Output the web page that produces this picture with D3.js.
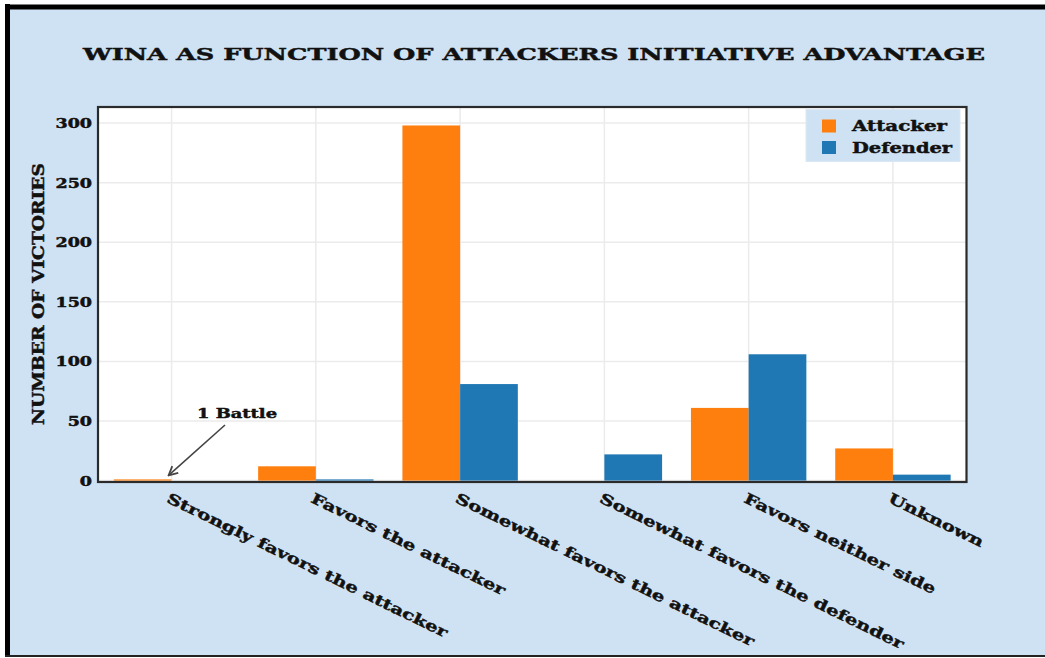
<!DOCTYPE html>
<html>
<head>
<meta charset="utf-8">
<script src="https://cdn.jsdelivr.net/npm/d3@7"></script>
<style>
  html, body { margin: 0; padding: 0; background: #ffffff; }
  svg { display: block; }
  text { font-family: "DejaVu Serif", "Liberation Serif", serif; font-weight: bold; fill: #111; stroke: #111; stroke-width: 0.45px; }
</style>
</head>
<body>
<svg id="chart" width="1045" height="658"></svg>
<script>
// ---- data ----
const categories = [
  "Strongly favors the attacker",
  "Favors the attacker",
  "Somewhat favors the attacker",
  "Somewhat favors the defender",
  "Favors neither side",
  "Unknown"
];
const attackerWins = [1, 12, 298, 0, 61, 27];
const defenderWins = [0, 1, 81, 22, 106, 5];
const seriesNames = ["Attacker", "Defender"];
const yTickValues = [0, 50, 100, 150, 200, 250, 300];
const titleText = "WINA AS FUNCTION OF ATTACKERS INITIATIVE ADVANTAGE";
const yAxisLabel = "NUMBER OF VICTORIES";
const annotationText = "1 Battle";

// ---- layout / style ----
const W = 1045, H = 658;
const plot = { left: 98, right: 966.5, top: 107, bottom: 482 };
const colors = ["#ff7f0e", "#1f77b4"];
const bg = "#cfe2f3";

const svg = d3.select("#chart");

// background + frame
svg.append("rect").attr("x", 7).attr("y", 7).attr("width", W).attr("height", 648).attr("fill", bg);
svg.append("line").attr("x1", 7.5).attr("x2", 7.5).attr("y1", 4).attr("y2", 656).attr("stroke", "#000").attr("stroke-width", 5);
svg.append("line").attr("x1", 5).attr("x2", W).attr("y1", 7).attr("y2", 7).attr("stroke", "#000").attr("stroke-width", 5);
svg.append("line").attr("x1", 5).attr("x2", W).attr("y1", 656).attr("y2", 656).attr("stroke", "#222").attr("stroke-width", 2);

// scales
const x = d3.scaleLinear().domain([-0.51, categories.length - 1 + 0.51]).range([plot.left, plot.right]);
const y = d3.scaleLinear().domain([0, 313.5]).range([480.6, plot.top]);
const barW = 0.4;

// plot background
svg.append("rect")
  .attr("x", plot.left).attr("y", plot.top)
  .attr("width", plot.right - plot.left).attr("height", plot.bottom - plot.top)
  .attr("fill", "#ffffff");

// gridlines
const grid = svg.append("g");
grid.selectAll(".hg").data(yTickValues).join("line")
  .attr("x1", plot.left).attr("x2", plot.right)
  .attr("y1", d => y(d)).attr("y2", d => y(d))
  .attr("stroke", "#ebebeb").attr("stroke-width", 1.5);
grid.selectAll(".vg").data(categories.map((c, i) => i)).join("line")
  .attr("x1", d => x(d)).attr("x2", d => x(d))
  .attr("y1", plot.top).attr("y2", plot.bottom)
  .attr("stroke", "#ebebeb").attr("stroke-width", 1.5);

// bars
const series = [attackerWins, defenderWins];
series.forEach((vals, s) => {
  svg.append("g").selectAll("rect").data(vals).join("rect")
    .attr("x", (d, i) => x(i - barW + s * barW))
    .attr("width", x(barW) - x(0))
    .attr("y", d => y(d))
    .attr("height", d => y(0) - y(d))
    .attr("fill", colors[s]);
});

// plot frame
svg.append("rect")
  .attr("x", plot.left).attr("y", plot.top)
  .attr("width", plot.right - plot.left).attr("height", plot.bottom - plot.top)
  .attr("fill", "none").attr("stroke", "#2b2b2b").attr("stroke-width", 2.2);

function stretch(sel, k) {
  sel.each(function () {
    const n = this.getComputedTextLength();
    d3.select(this).attr("textLength", n * k).attr("lengthAdjust", "spacingAndGlyphs");
  });
}
function fitTo(sel, len) {
  sel.attr("textLength", len).attr("lengthAdjust", "spacingAndGlyphs");
}

// y axis ticks
const yAxis = d3.axisLeft(y).tickValues(yTickValues).tickSize(0).tickPadding(6).tickFormat(d3.format("d"));
const yG = svg.append("g").attr("transform", `translate(${plot.left},0)`).call(yAxis);
yG.select(".domain").remove();
yG.selectAll("text")
  .attr("font-family", '"DejaVu Serif", serif').attr("font-weight", "bold")
  .attr("font-size", 12.5).attr("fill", "#111").attr("dy", "0.36em");
stretch(yG.selectAll("text"), 1.4);

// x axis labels (rotated)
const xLab = svg.append("g");
xLab.selectAll("text").data(categories).join("text")
  .attr("transform", (d, i) => `translate(${x(i) - 1},${plot.bottom + 10}) rotate(26)`)
  .attr("x", 0).attr("y", 0).attr("dy", "0.75em")
  .attr("font-size", 14.5)
  .text(d => d);
stretch(xLab.selectAll("text"), 1.36);

// title
fitTo(svg.append("text")
  .attr("x", 534).attr("y", 60).attr("text-anchor", "middle")
  .attr("font-size", 17).text(titleText), 902);

// y axis label
fitTo(svg.append("text")
  .attr("transform", `translate(44,294) rotate(-90)`)
  .attr("text-anchor", "middle").attr("font-size", 16).text(yAxisLabel), 262);

// legend
const lg = svg.append("g");
lg.append("rect").attr("x", 806).attr("y", 109.5).attr("width", 154).attr("height", 52)
  .attr("fill", bg).attr("stroke", "#dbe7f2").attr("stroke-width", 1);
seriesNames.forEach((name, s) => {
  lg.append("rect").attr("x", 822).attr("y", 119.5 + s * 21.5).attr("width", 14).attr("height", 13).attr("fill", colors[s]);
  fitTo(lg.append("text").attr("x", 852).attr("y", 131 + s * 21.5).attr("font-size", 14).text(name), s === 0 ? 95 : 100);
});

// annotation
const tip = [x(0) - 3, y(1) - 4];
const defs = svg.append("defs");
defs.append("marker").attr("id", "arrow").attr("viewBox", "0 0 10 10")
  .attr("refX", 9).attr("refY", 5).attr("markerWidth", 7).attr("markerHeight", 7)
  .attr("orient", "auto")
  .append("path").attr("d", "M1,1 L9,5 L1,9").attr("fill", "none").attr("stroke", "#444").attr("stroke-width", 1.6);
svg.append("line").attr("x1", 225).attr("y1", 425).attr("x2", tip[0]).attr("y2", tip[1])
  .attr("stroke", "#444").attr("stroke-width", 1.6).attr("marker-end", "url(#arrow)");
fitTo(svg.append("text").attr("x", 197).attr("y", 418).attr("font-size", 13).text(annotationText), 80);
</script>
</body>
</html>
